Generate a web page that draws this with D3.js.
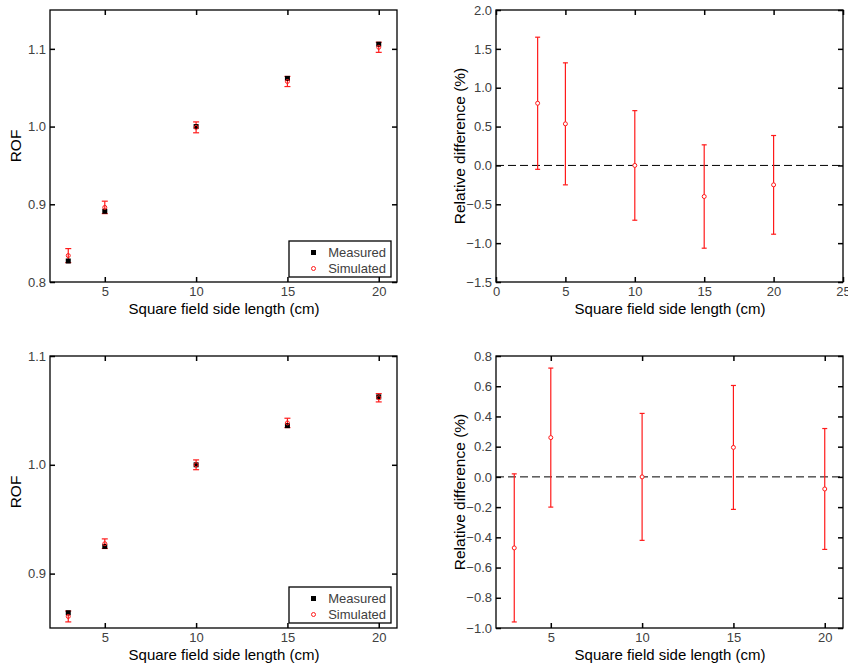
<!DOCTYPE html>
<html>
<head>
<meta charset="utf-8">
<script src="https://cdn.jsdelivr.net/npm/d3@7"></script>
<style>
 body { margin:0; background:#fff; }
 text { font-family: "Liberation Sans", Arial, sans-serif; }
</style>
</head>
<body>
<div id="chart"></div>
<script>
// field sizes (cm)
var sizes = [3, 5, 10, 15, 20];

// top row
var measuredA = [0.827, 0.891, 1.000, 1.062, 1.106];
var simulatedA = [0.834, 0.896, 0.999, 1.058, 1.102];
var simErrA = [0.009, 0.008, 0.007, 0.0065, 0.0065];
var relDiffA = [0.80, 0.535, 0.0, -0.40, -0.25];
var relErrA = [0.85, 0.785, 0.705, 0.665, 0.635];

// bottom row
var measuredB = [0.864, 0.925, 1.000, 1.036, 1.0624];
var simulatedB = [0.8606, 0.9275, 1.000, 1.0385, 1.0616];
var simErrB = [0.005, 0.0044, 0.0045, 0.0043, 0.0038];
var relDiffB = [-0.47, 0.26, 0.0, 0.195, -0.08];
var relErrB = [0.49, 0.46, 0.42, 0.41, 0.40];

var rofTicksA = [0.8, 0.9, 1.0, 1.1];
var rofTicksB = [0.9, 1.0, 1.1];
var relTicksA = d3.range(-1.5, 2.01, 0.5);
var relTicksB = d3.range(-1.0, 0.81, 0.2);

var width = 848, height = 668;
var svg = d3.select("#chart").append("svg")
	.attr("width", width)
	.attr("height", height)

var red = "#ff1a1a"

function panel(box, xDom, xTicks, yDom, yTicks, yFmt, ylabel){
	var x = d3.scaleLinear().domain(xDom).range([box.l, box.r])
	var y = d3.scaleLinear().domain(yDom).range([box.b, box.t])
	var g = svg.append("g")

	g.append("g").attr("transform", "translate(0," + box.b + ")")
		.call(d3.axisBottom(x).tickValues(xTicks).tickSize(-5).tickPadding(5).tickFormat(d3.format("d")))
	g.append("g").attr("transform", "translate(0," + box.t + ")")
		.call(d3.axisTop(x).tickValues(xTicks).tickSize(-5).tickFormat(""))
	g.append("g").attr("transform", "translate(" + box.l + ",0)")
		.call(d3.axisLeft(y).tickValues(yTicks).tickSize(-5).tickPadding(4).tickFormat(yFmt))
	g.append("g").attr("transform", "translate(" + box.r + ",0)")
		.call(d3.axisRight(y).tickValues(yTicks).tickSize(-5).tickFormat(""))

	g.selectAll(".domain").remove()
	g.selectAll(".tick line").attr("stroke", "#000").attr("stroke-width", 1.5)
	g.selectAll(".tick text").attr("fill", "#404040").style("font-size", "13px")

	g.append("rect")
		.attr("x", box.l).attr("y", box.t)
		.attr("width", box.r - box.l).attr("height", box.b - box.t)
		.attr("fill", "none").attr("stroke", "#000").attr("stroke-width", 1.3)

	g.append("text")
		.attr("x", (box.l + box.r) / 2 + 0.5)
		.attr("y", box.b + 32)
		.attr("text-anchor", "middle")
		.style("font-size", "15px")
		.text("Square field side length (cm)")

	g.append("text")
		.attr("transform", "translate(" + (box.l - (ylabel == "ROF" ? 29 : 31)) + "," + ((box.t + box.b) / 2) + ") rotate(-90)")
		.attr("text-anchor", "middle")
		.style("font-size", "15.5px")
		.text(ylabel)

	return {x: x, y: y, g: g}
}

function errBars(p, xs, ys, errs, cap){
	var g = p.g.append("g").attr("stroke", red).attr("stroke-width", 1.2)
	xs.forEach(function(d, i){
		var cx = p.x(d), y1 = p.y(ys[i] + errs[i]), y2 = p.y(ys[i] - errs[i])
		g.append("line").attr("x1", cx).attr("x2", cx).attr("y1", y1).attr("y2", y2)
		g.append("line").attr("x1", cx - cap).attr("x2", cx + cap).attr("y1", y1).attr("y2", y1)
		g.append("line").attr("x1", cx - cap).attr("x2", cx + cap).attr("y1", y2).attr("y2", y2)
	})
}

function rofPanel(box, yDom, yTicks, meas, sim, err){
	var p = panel(box, [2, 21], [5, 10, 15, 20], yDom, yTicks, d3.format(".1f"), "ROF")
	errBars(p, sizes, sim, err, 3)
	p.g.selectAll(".meas").data(sizes).enter().append("rect")
		.attr("x", function(d){ return p.x(d) - 2.5 })
		.attr("y", function(d, i){ return p.y(meas[i]) - 2.5 })
		.attr("width", 5).attr("height", 5).attr("fill", "#000")
	p.g.selectAll(".sim").data(sizes).enter().append("circle")
		.attr("cx", function(d){ return p.x(d) })
		.attr("cy", function(d, i){ return p.y(sim[i]) })
		.attr("r", 2).attr("fill", "none").attr("stroke", red).attr("stroke-width", 1)

	// legend
	var lg = p.g.append("g")
	var lx = box.r - 108, ly = box.b - 41
	lg.append("rect").attr("x", lx).attr("y", ly).attr("width", 102).attr("height", 36)
		.attr("fill", "#fff").attr("stroke", "#000").attr("stroke-width", 1.3)
	lg.append("rect").attr("x", lx + 22).attr("y", ly + 9).attr("width", 5).attr("height", 5).attr("fill", "#000")
	lg.append("circle").attr("cx", lx + 24.5).attr("cy", ly + 27.5).attr("r", 2)
		.attr("fill", "none").attr("stroke", red)
	lg.append("text").attr("x", lx + 97).attr("y", ly + 16).attr("text-anchor", "end")
		.attr("fill", "#404040").style("font-size", "13px").text("Measured")
	lg.append("text").attr("x", lx + 97).attr("y", ly + 32).attr("text-anchor", "end")
		.attr("fill", "#404040").style("font-size", "13px").text("Simulated")
}

function relPanel(box, xDom, xTicks, yDom, yTicks, vals, errs){
	var p = panel(box, xDom, xTicks, yDom, yTicks, d3.format(".1f"), "Relative difference (%)")
	p.g.append("line")
		.attr("x1", box.l).attr("x2", box.r)
		.attr("y1", p.y(0)).attr("y2", p.y(0))
		.attr("stroke", "#000").attr("stroke-width", 1).attr("stroke-dasharray", "8,4")
	errBars(p, sizes, vals, errs, 2.5)
	p.g.selectAll(".pt").data(sizes).enter().append("circle")
		.attr("cx", function(d){ return p.x(d) })
		.attr("cy", function(d, i){ return p.y(vals[i]) })
		.attr("r", 2).attr("fill", "#fff").attr("stroke", red).attr("stroke-width", 1)
}

rofPanel({l: 50, t: 10, r: 397, b: 282}, [0.8, 1.15], rofTicksA, measuredA, simulatedA, simErrA)
relPanel({l: 496, t: 10, r: 843, b: 282}, [0, 25], [0, 5, 10, 15, 20, 25], [-1.5, 2.0], relTicksA, relDiffA, relErrA)
rofPanel({l: 50, t: 356, r: 397, b: 628}, [0.85, 1.1], rofTicksB, measuredB, simulatedB, simErrB)
relPanel({l: 496, t: 356, r: 843, b: 628}, [2, 21], [5, 10, 15, 20], [-1.0, 0.8], relTicksB, relDiffB, relErrB)
</script>
</body>
</html>
